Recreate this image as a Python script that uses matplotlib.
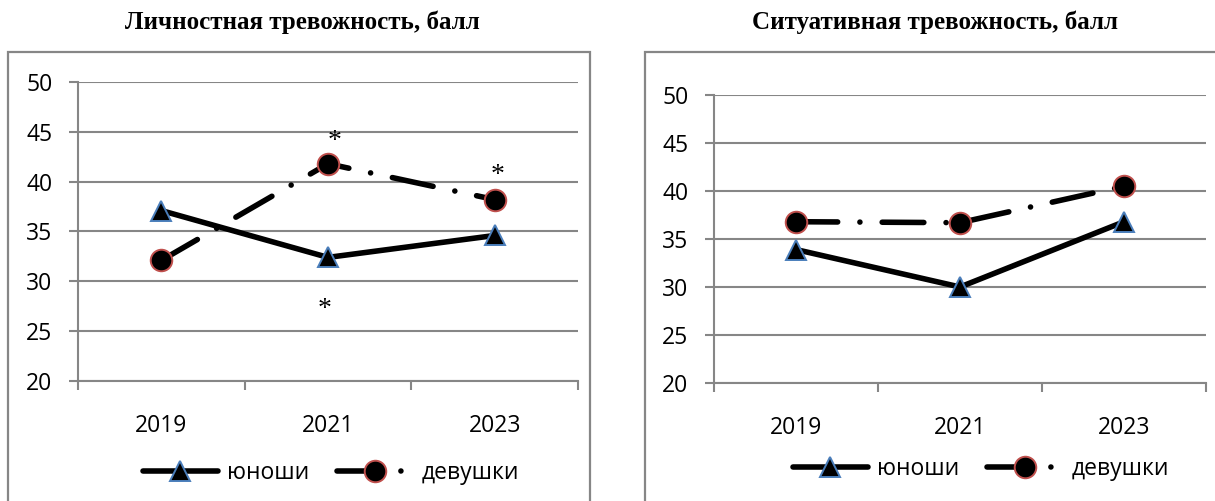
#Purpose: Anxiety scores (trait and state) of boys and girls, 2019-2023
##########################################
#Load common libraries
import matplotlib
matplotlib.use('Agg')
import matplotlib.pyplot as plt
from matplotlib.patches import Rectangle

##########################################
#Define data
years = ['2019', '2021', '2023']
series_names = ['юноши', 'девушки']

trait_boys = [37.1, 32.4, 34.6]
trait_girls = [32.1, 41.8, 38.2]

state_boys = [33.9, 30.0, 36.8]
state_girls = [36.8, 36.7, 40.5]

titles = ['Личностная тревожность, балл', 'Ситуативная тревожность, балл']

#significance marks (category index, y value)
trait_stars = [(1.04, 44.0), (0.98, 27.2), (2.02, 40.6)]

##########################################
#Style
W, H = 1215, 501
font_name = ['Open Sans', 'DejaVu Sans']
tick_size = 16.5
grid_color = '#868686'
lw_data = 4.0

plt.rcParams['font.family'] = font_name

fig = plt.figure(figsize=[W / 100, H / 100], dpi=100)

def fx(px):
	return px / W

def fy(py):
	return 1 - py / H

#panel boxes [left, top, right] in pixels, plot areas [x0, x1, ytop, ybottom]
boxes = [[8, 52, 590], [645, 52, 1240]]
areas = [[78, 578, 82, 381], [714, 1206, 95, 383]]
title_x = [302, 935]
legend_xy = [(331, 473), (981, 469)]

panels = [(trait_boys, trait_girls, trait_stars), (state_boys, state_girls, [])]

for i, (boys, girls, stars) in enumerate(panels):
	#Outer frame of the chart
	bx0, by0, bx1 = boxes[i]
	fig.patches.append(Rectangle((fx(bx0), fy(H + 5)), fx(bx1 - bx0), (H + 5 - by0) / H,
		transform=fig.transFigure, fill=False, edgecolor=grid_color, linewidth=1.6))

	fig.text(fx(title_x[i]), fy(22), titles[i], ha='center', va='center',
		fontname='Liberation Serif', fontweight='bold', fontsize=18)

	x0, x1, yt, yb = areas[i]
	ax = fig.add_axes([fx(x0), fy(yb), fx(x1 - x0), (yb - yt) / H])

	xs = list(range(len(years)))
	ax.plot(xs, boys, color='black', linewidth=lw_data, solid_capstyle='round',
		marker='^', markersize=14, markerfacecolor='black', markeredgecolor='#4a7ebb',
		markeredgewidth=1.4, label=series_names[0], zorder=3)
	ax.plot(xs, girls, color='black', linewidth=lw_data, linestyle=(0, (7.5, 4, 0.01, 4)),
		dash_capstyle='round', marker='o', markersize=15.5, markerfacecolor='black',
		markeredgecolor='#c0504d', markeredgewidth=1.4, label=series_names[1], zorder=3)

	for sx, sy in stars:
		ax.text(sx, sy, '*', ha='center', va='center', fontsize=20, fontname='Liberation Serif')

	#Axes, grid and ticks
	ax.set_xlim(-0.5, 2.5)
	ax.set_ylim(20, 50)
	ax.set_yticks(range(20, 51, 5))
	ax.yaxis.grid(True, color=grid_color, linewidth=1.5)
	ax.set_axisbelow(True)
	ax.set_xticks(xs)
	ax.set_xticklabels(years)
	ax.set_xticks([-0.5, 0.5, 1.5, 2.5], minor=True)
	ax.tick_params(axis='x', which='major', length=0, pad=24, labelsize=tick_size)
	ax.tick_params(axis='x', which='minor', length=6.5, width=1.5, color=grid_color, direction='out')
	ax.tick_params(axis='y', length=6.5, width=1.5, color=grid_color, pad=12, labelsize=tick_size)
	for side in ['top', 'right']:
		ax.spines[side].set_visible(False)
	for side in ['left', 'bottom']:
		ax.spines[side].set_color(grid_color)
		ax.spines[side].set_linewidth(1.5)
	ax.patch.set_alpha(0)

	lx, ly = legend_xy[i]
	ax.legend(loc='center', bbox_to_anchor=(fx(lx), fy(ly)), bbox_transform=fig.transFigure,
		ncol=2, frameon=False, fontsize=tick_size, numpoints=1, handlelength=3.3,
		handletextpad=0.4, columnspacing=1.2)

#Save
plt.savefig('out.png', dpi=100)
